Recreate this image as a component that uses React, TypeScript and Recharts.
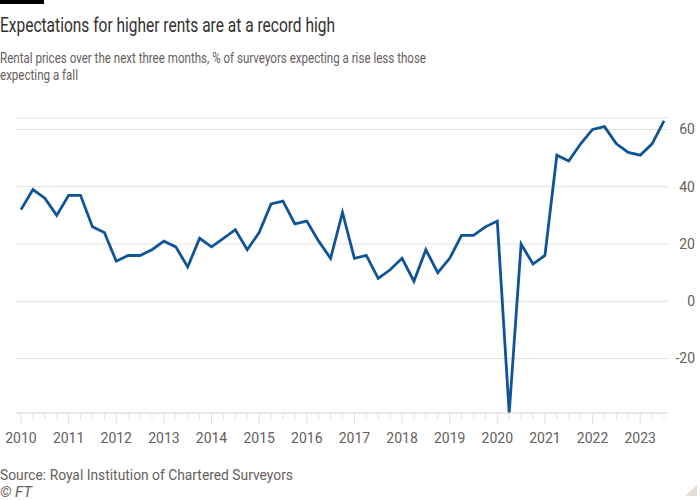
import { LineChart, Line, XAxis, YAxis, CartesianGrid } from "recharts";

// RICS balance: rental price expectations, quarterly, 2010 Q1 – 2023 Q3
const YEARS = [2010, 2011, 2012, 2013, 2014, 2015, 2016, 2017, 2018, 2019, 2020, 2021, 2022, 2023];
const QUARTERS = ["Q1", "Q2", "Q3", "Q4"];
const RENT_BALANCE = [
  32, 39, 36, 30, 37, 37, 26, 24, 14, 16, 16, 18, 21, 19, 12, 22, 19, 22, 25, 18,
  24, 34, 35, 27, 28, 21, 15, 31, 15, 16, 8, 11, 15, 7, 18, 10, 15, 23, 23, 26,
  28, -39, 20, 13, 16, 51, 49, 55, 60, 61, 55, 52, 51, 55, 63,
];
const Y_TICKS = [-20, 0, 20, 40, 60];

const data = RENT_BALANCE.map((value, i) => ({
  period: `${YEARS[Math.floor(i / 4)]} ${QUARTERS[i % 4]}`,
  value,
}));

const INK = "#33302e";
const GREY = "#66605c";
const RULE = "#e6e0da";
const SANS = "Roboto, sans-serif";

function PeriodTick({ x, y, payload }: any) {
  const [year, q] = String(payload.value).split(" ");
  const major = q === "Q1";
  return (
    <g>
      <line x1={x} x2={x} y1={y} y2={y + (major ? 12 : 6)} stroke={RULE} />
      {major && (
        <text x={x} y={y + 30} textAnchor="middle" fontSize={14} fill={GREY} fontFamily={SANS}>
          {year}
        </text>
      )}
    </g>
  );
}

function ValueTick({ x, y, payload }: any) {
  return (
    <text x={x + 27} y={y} dy="0.35em" textAnchor="end" fontSize={14} fill={GREY} fontFamily={SANS}>
      {payload.value}
    </text>
  );
}

// narrow FT-style lines: real text squeezed to the reference widths
function Line1({ y, width, size, color, italic, children }: any) {
  return (
    <text
      x={0}
      y={y}
      textLength={width}
      lengthAdjust="spacingAndGlyphs"
      fontSize={size}
      fill={color}
      fontFamily={SANS}
      fontStyle={italic ? "italic" : "normal"}
    >
      {children}
    </text>
  );
}

export default function App() {
  return (
    <div style={{ position: "relative", width: 700, height: 500, background: "#fff", overflow: "hidden" }}>
      <style>{"body{margin:0}"}</style>

      <div style={{ position: "absolute", left: 0, top: 100 }}>
        <LineChart width={700} height={360} data={data} margin={{ top: 18, right: 0, bottom: 0, left: 16 }}>
          <CartesianGrid vertical={false} stroke={RULE} />
          <XAxis
            dataKey="period"
            interval={0}
            height={47}
            tickSize={0}
            tickMargin={0}
            tickLine={false}
            axisLine={{ stroke: RULE }}
            padding={{ left: 5, right: 4 }}
            tick={<PeriodTick />}
          />
          <YAxis
            orientation="right"
            width={32}
            domain={[-39, 64]}
            ticks={Y_TICKS}
            tickSize={0}
            tickMargin={0}
            tickLine={false}
            axisLine={false}
            tick={<ValueTick />}
          />
          <Line
            type="linear"
            dataKey="value"
            stroke="#0f5499"
            strokeWidth={2.8}
            dot={false}
            activeDot={false}
            isAnimationActive={false}
          />
        </LineChart>
      </div>

      <svg style={{ position: "absolute", left: 0, top: 0 }} width={700} height={500}>
        <rect x={0} y={0} width={44} height={4} fill="#000" />
        <Line1 y={32} width={335} size={20} color={INK}>
          Expectations for higher rents are at a record high
        </Line1>
        <Line1 y={62.5} width={426} size={15} color={GREY}>
          Rental prices over the next three months, % of surveyors expecting a rise less those
        </Line1>
        <Line1 y={79.5} width={78} size={15} color={GREY}>
          expecting a fall
        </Line1>
        <Line1 y={480} width={293} size={14.5} color={GREY}>
          Source: Royal Institution of Chartered Surveyors
        </Line1>
        <Line1 y={496.5} width={32} size={14.5} color={GREY} italic>
          © FT
        </Line1>
        <polygon points="685,496 697,496 697,485" fill="#e8ddd2" />
      </svg>
    </div>
  );
}
